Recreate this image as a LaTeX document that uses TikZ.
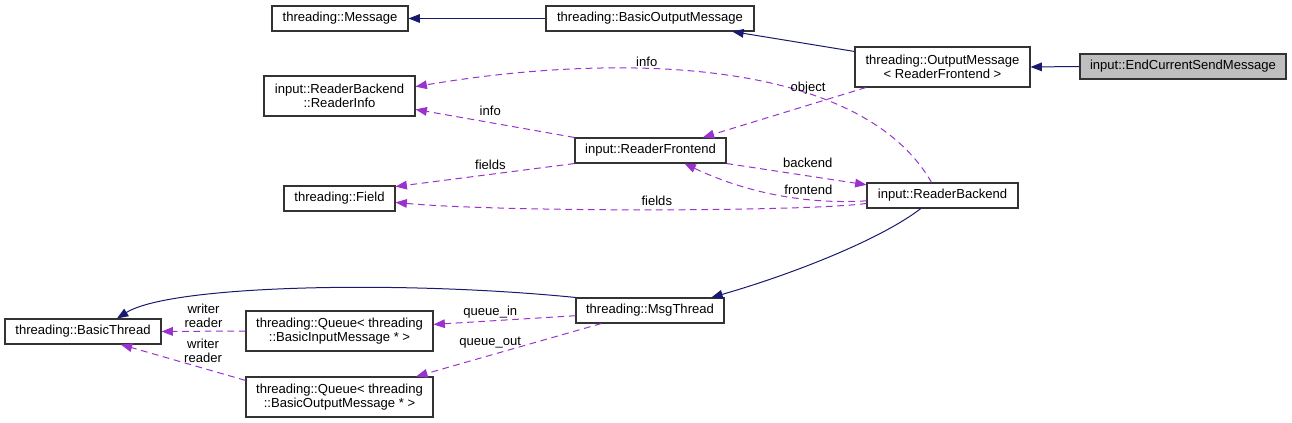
\documentclass[tikz,border=0pt]{standalone}
\usepackage{fontspec}
\setmainfont{Liberation Sans}
\usetikzlibrary{arrows.meta}
\definecolor{navy}{HTML}{191970}
\definecolor{orchid}{HTML}{9A32CD}
\definecolor{boxgray}{HTML}{BFBFBF}

\begin{document}
\begin{tikzpicture}[
    x=0.75pt, y=-0.75pt,
    font=\fontsize{9.8}{10.5}\selectfont,
    cls/.style={rectangle, draw=black!80, line width=0.8pt, fill=white, align=center, inner sep=0pt, minimum height=18.75pt},
    tall/.style={minimum height=30pt},
    inherit/.style={draw=navy, line width=0.75pt, -{Triangle[length=8.5pt,width=6.5pt]}},
    usage/.style={draw=orchid, line width=0.75pt, dash pattern=on 5pt off 3.5pt, -{Triangle[length=8.5pt,width=6.5pt]}},
    lbl/.style={inner sep=1pt, align=center, text=black}
]
\useasboundingbox (0,0) rectangle (1292,423);

% Nodes
\node (msg) [cls, minimum width=102pt] at (340,18.5) {threading::Message};
\node (bom) [cls, minimum width=156pt] at (650,18.5) {threading::BasicOutputMessage};
\node (om) [cls, tall, minimum width=131.25pt] at (942.5,67) {threading::OutputMessage\\< ReaderFrontend >};
\node (ecsm) [cls, fill=boxgray, minimum width=154.5pt] at (1183,66.5) {input::EndCurrentSendMessage};

\node (rinfo) [cls, tall, minimum width=113.25pt] at (339.5,96) {input::ReaderBackend\\::ReaderInfo};
\node (rfront) [cls, minimum width=113.25pt] at (650.5,150.5) {input::ReaderFrontend};
\node (field) [cls, minimum width=83.25pt] at (339.5,198.5) {threading::Field};
\node (rback) [cls, minimum width=113.25pt] at (942.5,195.5) {input::ReaderBackend};

\node (msgthr) [cls, minimum width=111pt] at (650,310.5) {threading::MsgThread};
\node (bthr) [cls, minimum width=117pt] at (83,331.5) {threading::BasicThread};
\node (qin) [cls, tall, minimum width=140.25pt] at (339.5,331) {threading::Queue< threading\\::BasicInputMessage * >};
\node (qout) [cls, tall, minimum width=140.25pt] at (339.5,397) {threading::Queue< threading\\::BasicOutputMessage * >};

% Inheritance
\draw [inherit] (bom.west) -- (msg.east);
\draw [inherit] (om.170) -- (bom.-9);
\draw [inherit] (ecsm.west) -- (om.east);
\draw [inherit] (rback.211) .. controls (880,240) and (790,275) .. (msgthr.12);
\draw [inherit] (msgthr.north west) .. controls (400,280) and (170,285) .. (bthr.21);

% Members
\draw [usage] (rback.130) .. controls (860,58) and (620,52) .. node[lbl, above, pos=0.63] {info} (rinfo.7);
\draw [usage] (rfront.north west) -- node[lbl, above=4pt, pos=0.53] {info} (rinfo.-10);
\draw [usage] (om.195) -- node[lbl, above left=2pt, pos=0.22] {object} (rfront.14);
\draw [usage] (rfront.south west) -- node[lbl, above=2pt, pos=0.47] {fields} (field.12);
\draw [usage] (rfront.south east) -- node[lbl, above=5pt, pos=0.58] {backend} (rback.172);
\draw [usage] (rback.184) .. controls (800,205) and (740,190) .. node[lbl, above=2pt, pos=0.3] {frontend} (rfront.-21);
\draw [usage] (rback.186) .. controls (800,212) and (500,212) .. node[lbl, above=2pt, pos=0.48] {fields} (field.-4);
\draw [usage] (msgthr.184) -- node[lbl, above=1pt, pos=0.6] {queue\_in} (qin.4);
\draw [usage] (msgthr.195) -- node[lbl, above=4pt, pos=0.6] {queue\_out} (qout.15);
\draw [usage] (qin.west) -- node[lbl, above=1pt] {writer\\reader} (bthr.east);
\draw [usage] (qout.170) -- node[lbl, above=3pt, pos=0.34] {writer\\reader} (bthr.-19);

\end{tikzpicture}
\end{document}
